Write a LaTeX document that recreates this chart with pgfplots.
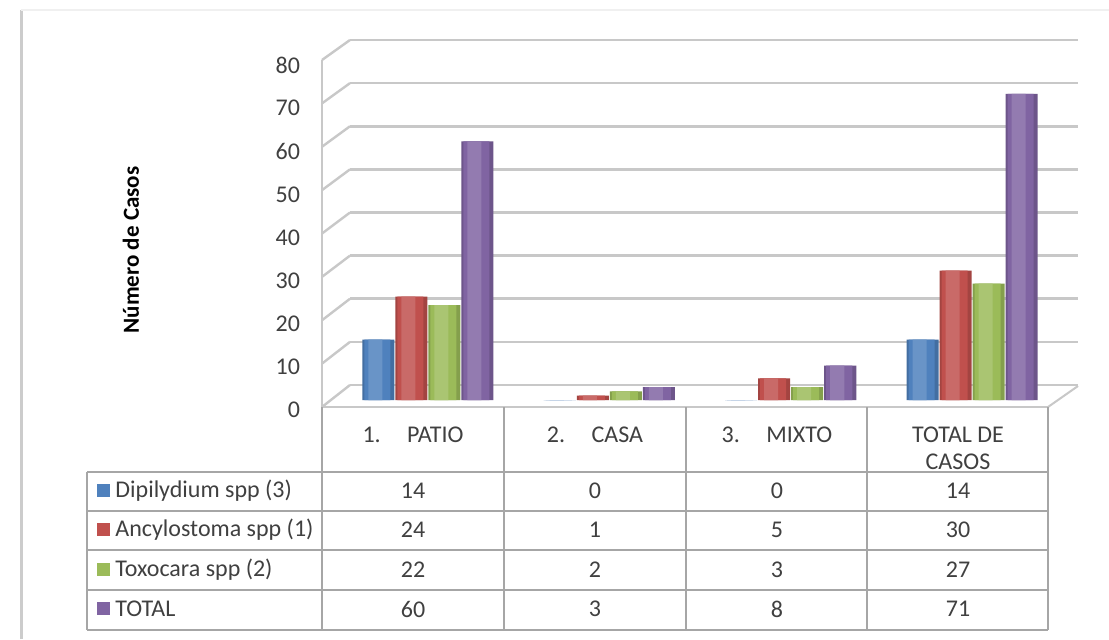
\documentclass[border=0pt]{standalone}
\usepackage{pgfplots}
\usepackage{pgfplotstable}
\pgfplotsset{compat=1.18}
\usepackage{fontspec}
\setmainfont{Carlito}
\definecolor{cBlue}{HTML}{4F81BD}
\definecolor{cRed}{HTML}{C0504D}
\definecolor{cGreen}{HTML}{9BBB59}
\definecolor{cPurple}{HTML}{8064A2}
\definecolor{gridc}{HTML}{C8C8C8}
\definecolor{tblc}{HTML}{A6A6A6}
\definecolor{txt}{HTML}{404040}

\pgfplotstableread{
x dip anc tox tot
0 14 24 22 60
1 0 1 2 3
2 0 5 3 8
3 14 30 27 71
}\datatable

% cylinder-like bar: three layered bars from the same column
\newcommand{\cylbars}[3]{% colour, column, shift (pt)
  \addplot[draw=none, fill=#1!85!black, bar width=16pt, bar shift=#3pt] table[x=x,y=#2] {\datatable};
  \addplot[draw=none, fill=#1, bar width=13pt, bar shift=#3pt-0.5pt] table[x=x,y=#2] {\datatable};
  \addplot[draw=none, fill=#1!85!white, bar width=7pt, bar shift=#3pt-1.5pt] table[x=x,y=#2] {\datatable};
}

\begin{document}
\begin{tikzpicture}[x=0.5pt,y=0.5pt]
\fill[white] (0,0) rectangle (1109,639);
% outer frame
\draw[gray!40, line width=1.5pt] (21,0) -- (21,629);
\draw[gray!12, line width=1pt] (21,629) -- (1109,629);

% back wall gridlines
\begin{axis}[at={(175pt,127pt)}, anchor=south west, scale only axis,
  width=364pt, height=172.5pt, xmin=0, xmax=1, ymin=0, ymax=80,
  ytick={0,10,...,80}, xtick=\empty, yticklabels={}, major tick length=0pt,
  ymajorgrids, grid style={gridc, line width=1.3pt},
  axis line style={draw=none}]
\end{axis}
% side wall and floor
\foreach \v in {0,10,...,80}
  \draw[gridc, line width=1.2pt] (322,{232+4.3375*\v}) -- (350,{254+4.3125*\v});
\draw[gridc, line width=1pt] (322,232) -- (322,579);
\draw[gridc, line width=1pt] (1048,232) -- (1078,253);

% bars
\begin{axis}[at={(168.5pt,119.5pt)}, anchor=south west, scale only axis,
  width=363pt, height=172.5pt, xmin=-0.5, xmax=3.5, ymin=0, ymax=80,
  ytick={0,10,...,80}, xtick=\empty, major tick length=0pt,
  axis line style={draw=none},
  /pgf/number format/assume math mode=true,
  yticklabel style={font=\fontsize{12}{14}\selectfont, text=txt, xshift=-15pt, yshift=-5pt},
  ybar=0.5pt, bar width=16pt]
\cylbars{cBlue}{dip}{-24.75}
\cylbars{cRed}{anc}{-8.25}
\cylbars{cGreen}{tox}{8.25}
\cylbars{cPurple}{tot}{24.75}
\end{axis}

% front floor edge
\draw[gridc, line width=1pt] (322,232) -- (1048,232);

% y label
\node[rotate=90, font=\bfseries\fontsize{11.5}{13}\selectfont, text=black] at (131,389) {Número de Casos};

% data table
\begin{scope}[tblc, line width=0.6pt]
\foreach \yy in {167,128,89,49,9} \draw (87,\yy) -- (1048,\yy);
\draw (87,167) -- (87,9);
\foreach \xx in {322,504,686,867,1048} \draw (\xx,232) -- (\xx,9);
\end{scope}
\begin{scope}[every node/.style={font=\fontsize{12}{14}\selectfont, text=txt, inner sep=0pt}]
\node at (413,204) {1.\hspace{1.1em}PATIO};
\node at (595,204) {2.\hspace{1.1em}CASA};
\node at (777,204) {3.\hspace{1.1em}MIXTO};
\node at (958,204) {TOTAL DE};
\node at (958,177) {CASOS};
% rows
\fill[cBlue] (97,142) rectangle (110,155);
\fill[cRed] (97,103) rectangle (110,116);
\fill[cGreen] (97,63) rectangle (110,76);
\fill[cPurple] (97,24) rectangle (110,37);
\node[anchor=west] at (115,148) {Dipilydium spp (3)};
\node[anchor=west] at (115,109) {Ancylostoma spp (1)};
\node[anchor=west] at (115,69) {Toxocara spp (2)};
\node[anchor=west] at (115,30) {TOTAL};
\node at (413,148) {14}; \node at (595,148) {0}; \node at (777,148) {0}; \node at (958,148) {14};
\node at (413,109) {24}; \node at (595,109) {1}; \node at (777,109) {5}; \node at (958,109) {30};
\node at (413,69) {22}; \node at (595,69) {2}; \node at (777,69) {3}; \node at (958,69) {27};
\node at (413,30) {60}; \node at (595,30) {3}; \node at (777,30) {8}; \node at (958,30) {71};
\end{scope}
\pgfresetboundingbox
\path[use as bounding box] (0,0) rectangle (1109,639);
\end{tikzpicture}
\end{document}
